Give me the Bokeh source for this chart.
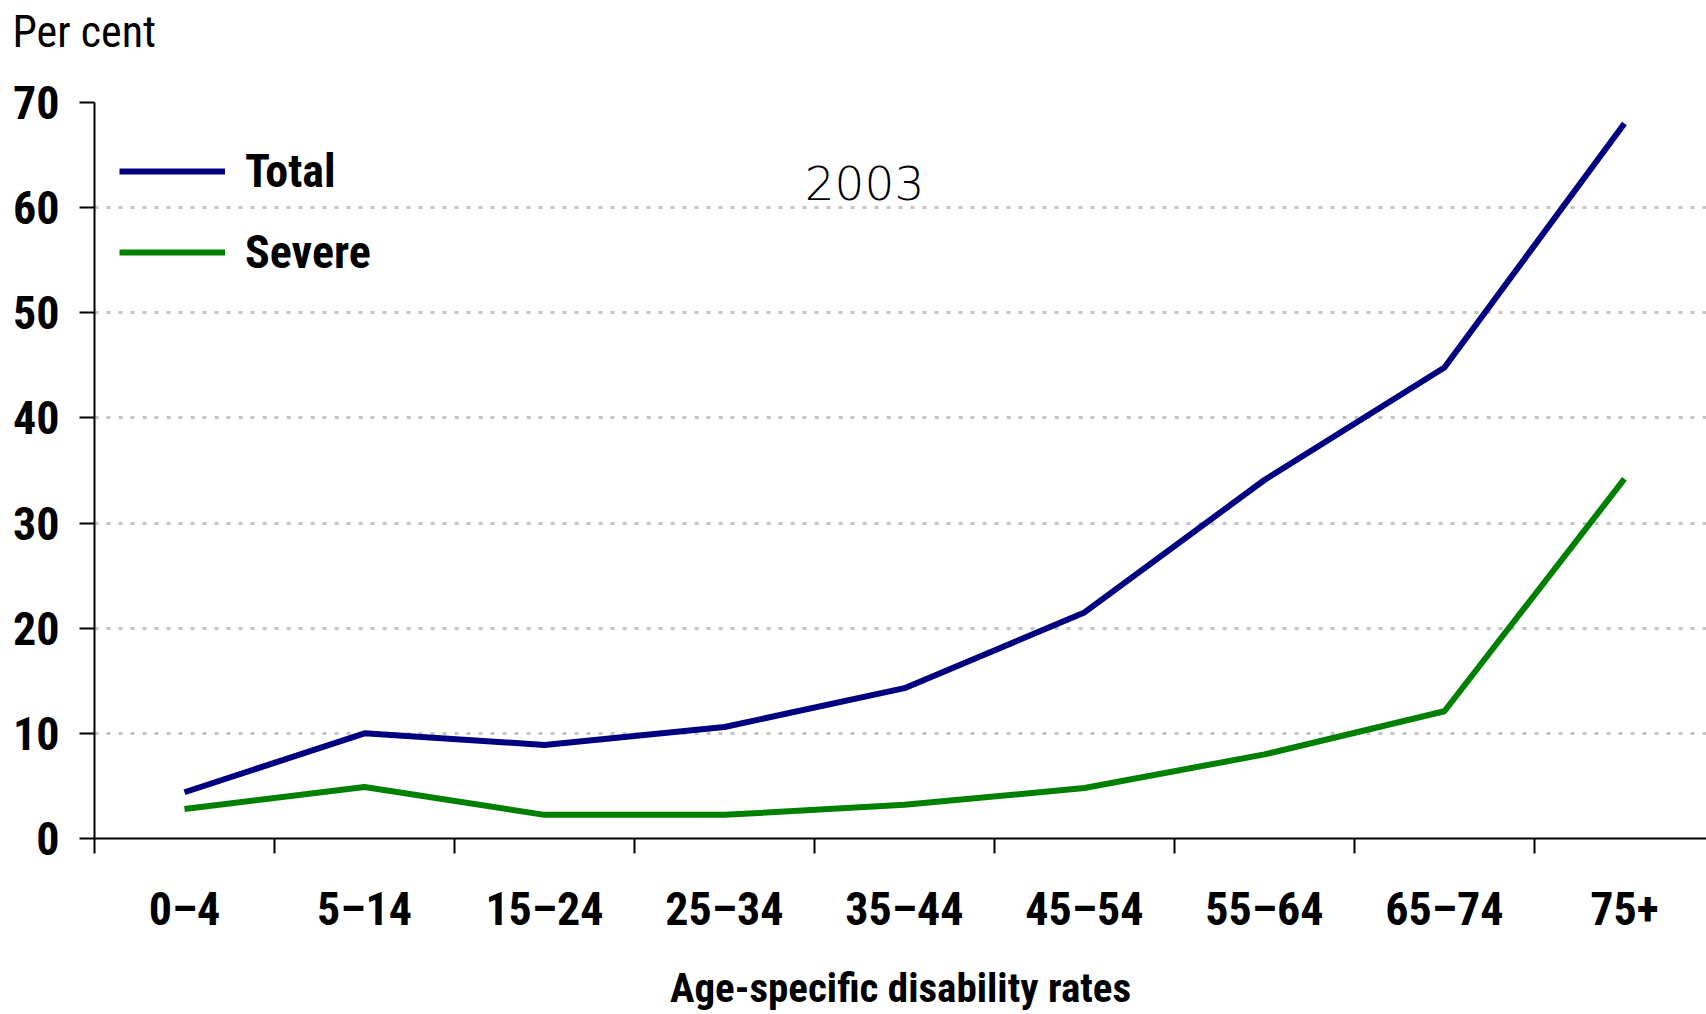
from bokeh.plotting import figure
from bokeh.models import FixedTicker, Legend, LegendItem, Label, Range1d
from bokeh.embed import file_html
from bokeh.resources import INLINE

categories = ["0–4", "5–14", "15–24", "25–34", "35–44", "45–54", "55–64", "65–74", "75+"]
total = [4.4, 10.0, 8.9, 10.6, 14.3, 21.5, 34.1, 44.8, 68.0]
severe = [2.8, 4.9, 2.25, 2.25, 3.2, 4.8, 8.0, 12.1, 34.2]
y_ticks = [0, 10, 20, 30, 40, 50, 60, 70]
series_names = ["Total", "Severe"]
year_label = "2003"
y_title = "Per cent"
x_title = "Age-specific disability rates"

COND = "'Roboto Condensed', 'Liberation Sans Narrow', Roboto, sans-serif"

xs = [i + 0.5 for i in range(len(categories))]
bounds = list(range(len(categories)))

p = figure(width=1706, height=1014, output_backend="svg", toolbar_location=None,
           x_range=Range1d(0, 8.956), y_range=Range1d(0, 70),
           frame_width=1612, frame_height=736,
           min_border_left=94, min_border_right=0, min_border_top=102, min_border_bottom=176)
p.outline_line_color = None
p.background_fill_color = "white"
p.border_fill_color = "white"

r1 = p.line(xs, total, line_color="#000080", line_width=6)
r2 = p.line(xs, severe, line_color="#008000", line_width=6)

# x axis: labels at centres, ticks at the boundaries
xa = p.xaxis[0]
xa.ticker = FixedTicker(ticks=xs, minor_ticks=bounds)
xa.major_label_overrides = {x: c for x, c in zip(xs, categories)}
xa.major_tick_out = 0
xa.major_tick_in = 0
xa.minor_tick_out = 15
xa.minor_tick_in = 0
xa.minor_tick_line_color = "black"
xa.minor_tick_line_width = 2
xa.axis_line_color = "black"
xa.axis_line_width = 2
xa.major_label_text_font = COND
xa.major_label_text_font_size = "46px"
xa.major_label_text_font_style = "bold"
xa.major_label_text_color = "black"
xa.major_label_standoff = 28
xa.axis_label = x_title
xa.axis_label_text_font = COND
xa.axis_label_text_font_size = "41px"
xa.axis_label_text_font_style = "bold"
xa.axis_label_text_color = "black"
xa.axis_label_standoff = 25

ya = p.yaxis[0]
ya.ticker = FixedTicker(ticks=y_ticks, minor_ticks=[])
ya.major_tick_out = 15
ya.major_tick_in = 0
ya.major_tick_line_width = 2
ya.major_tick_line_color = "black"
ya.axis_line_color = "black"
ya.axis_line_width = 2
ya.major_label_text_font = COND
ya.major_label_text_font_size = "46px"
ya.major_label_text_font_style = "bold"
ya.major_label_text_color = "black"
ya.major_label_standoff = 20

p.xgrid.grid_line_color = None
p.ygrid.grid_line_color = "#c4c4c4"
p.ygrid.grid_line_width = 3
p.ygrid.grid_line_dash = "4 8"

# the unit title sits high above the frame: an empty second line lifts it
p.title.text = y_title + "\n "
p.title.align = "left"
p.title.vertical_align = "top"
p.title.offset = -82
p.title.standoff = -18
p.title.text_font = COND
p.title.text_font_size = "44px"
p.title.text_font_style = "normal"
p.title.text_color = "black"

legend = Legend(items=[LegendItem(label=series_names[0], renderers=[r1]),
                       LegendItem(label=series_names[1], renderers=[r2])],
                location=(25, 556), orientation="vertical",
                border_line_color=None, background_fill_alpha=0,
                padding=0, margin=0, spacing=21,
                glyph_width=106, glyph_height=60, label_height=60,
                label_standoff=20,
                label_text_font=COND, label_text_font_size="46px",
                label_text_font_style="bold", label_text_color="black")
p.add_layout(legend)

p.add_layout(Label(x=4.278, y=62.3, text=year_label, text_align="center", text_baseline="middle",
                   text_font="'DejaVu Sans Light', 'DejaVu Sans', sans-serif",
                   text_font_size="47px", text_color="black"))

open("out.html", "w").write(file_html(p, INLINE))
